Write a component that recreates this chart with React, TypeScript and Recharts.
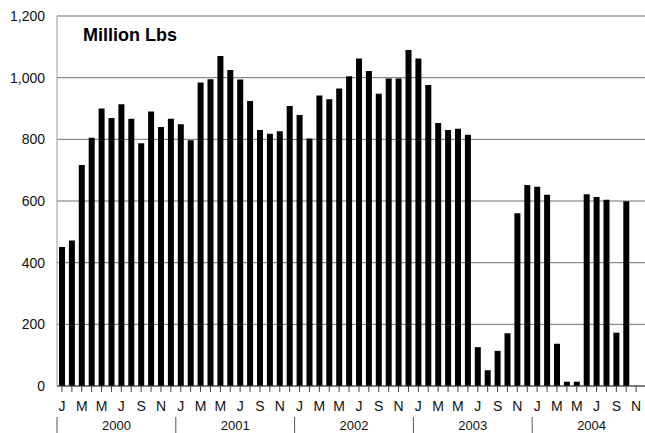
import React from 'react'
import { BarChart, Bar, XAxis, YAxis, CartesianGrid } from 'recharts'

const MONTHS = ['J', 'F', 'M', 'A', 'M', 'J', 'J', 'A', 'S', 'O', 'N', 'D']
const YEARS = ['2000', '2001', '2002', '2003', '2004']

const values2000 = [451, 472, 717, 805, 900, 869, 914, 867, 787, 890, 840, 867]
const values2001 = [849, 797, 984, 995, 1070, 1025, 994, 924, 830, 818, 826, 908]
const values2002 = [879, 803, 942, 930, 965, 1005, 1062, 1022, 948, 997, 997, 1090]
const values2003 = [1062, 976, 853, 830, 834, 815, 126, 51, 114, 171, 560, 652]
// Nov/Dec 2004 have no value yet
const values2004 = [646, 620, 137, 14, 14, 622, 613, 604, 173, 599, null, null]

const Y_TICKS = [0, 200, 400, 600, 800, 1000, 1200]

const seriesByYear = [values2000, values2001, values2002, values2003, values2004]

const data = seriesByYear.flatMap((vals, yi) =>
  vals.map((v, mi) => ({
    key: `${YEARS[yi]}-${mi + 1}`,
    month: MONTHS[mi],
    monthIndex: mi,
    year: YEARS[yi],
    value: v,
  }))
)

const WIDTH = 637
const HEIGHT = 425
// plot runs a little past the right edge, like the scanned original
const MARGIN = { top: 8, right: -6, bottom: 0, left: 0 }
const Y_WIDTH = 49
const BAND = (WIDTH - MARGIN.left - MARGIN.right - Y_WIDTH) / data.length

const fontFamily = '"Liberation Sans", Arial, sans-serif'

function MonthTick(props: any) {
  const { x, y, index } = props
  const d = data[index]
  if (!d) return null
  return (
    <g>
      <line x1={x} x2={x} y1={y} y2={y + 6} stroke="#444" strokeWidth={1} />
      {index % 2 === 0 && (
        <text x={x} y={y + 25} textAnchor="middle" fontSize={14} fontFamily={fontFamily} fill="#111">
          {d.month}
        </text>
      )}
      {d.monthIndex === 0 && (
        <line x1={x - BAND / 2} x2={x - BAND / 2} y1={y + 31} y2={y + 47} stroke="#555" strokeWidth={1} />
      )}
      {d.monthIndex === 5 && (
        <text x={x + BAND / 2} y={y + 44} textAnchor="middle" fontSize={13} fontFamily={fontFamily} fill="#111">
          {d.year}
        </text>
      )}
    </g>
  )
}

export default function App() {
  return (
    <div style={{ position: 'absolute', left: 8, top: 8, width: WIDTH, height: HEIGHT }}>
      <BarChart width={WIDTH} height={HEIGHT} data={data} margin={MARGIN} barSize={6}>
        <CartesianGrid vertical={false} stroke="#707070" />
        <XAxis
          dataKey="key"
          interval={0}
          height={47}
          tickSize={0}
          tickMargin={0}
          tickLine={false}
          axisLine={{ stroke: '#444' }}
          tick={<MonthTick />}
        />
        <YAxis
          width={Y_WIDTH}
          domain={[0, 1200]}
          ticks={Y_TICKS}
          interval={0}
          tickLine={false}
          tickMargin={6}
          axisLine={{ stroke: '#999' }}
          tickFormatter={(v: number) => v.toLocaleString('en-US')}
          tick={{ fontSize: 14, fontFamily, fill: '#111' }}
        />
        <Bar dataKey="value" fill="#000" isAnimationActive={false} />
      </BarChart>
      <div
        style={{
          position: 'absolute',
          left: 75,
          top: 17,
          fontFamily,
          fontWeight: 700,
          fontSize: 18,
          lineHeight: '20px',
          color: '#000',
        }}
      >
        Million Lbs
      </div>
    </div>
  )
}
